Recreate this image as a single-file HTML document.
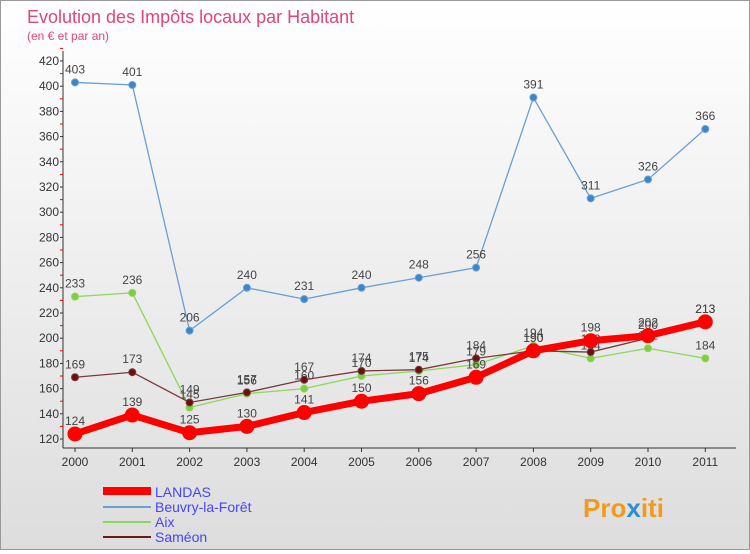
<!DOCTYPE html>
<html><head><meta charset="utf-8"><style>
body{margin:0;width:750px;height:550px;overflow:hidden;font-family:"Liberation Sans",sans-serif}
#wrap{position:relative;width:748px;height:548px;border:1px solid #999;background:linear-gradient(#fff,#ddd)}
</style></head><body>
<div id="wrap">
<svg id="c" width="748" height="548" xmlns="http://www.w3.org/2000/svg">
<text x="26" y="22" font-size="18" fill="#e0457b">Evolution des Impôts locaux par Habitant</text>
<text x="26" y="39" font-size="12" fill="#e0457b">(en € et par an)</text>
<g id="axes"></g><g id="series"></g>
<g>
<rect x="102" y="486" width="48" height="8" fill="#f00"/>
<text x="154" y="496" font-size="14" fill="#44f">LANDAS</text>
<line x1="102" y1="506" x2="150" y2="506" stroke="#6a9fd4" stroke-width="2"/>
<text x="154" y="511" font-size="14" fill="#44f">Beuvry-la-Forêt</text>
<line x1="102" y1="521" x2="150" y2="521" stroke="#8cd65a" stroke-width="2"/>
<text x="154" y="526" font-size="14" fill="#44f">Aix</text>
<line x1="102" y1="536" x2="150" y2="536" stroke="#6b1a1a" stroke-width="2"/>
<text x="154" y="541" font-size="14" fill="#44f">Saméon</text>
</g>
<text x="582" y="516" font-size="26" font-weight="bold" fill="#f39a1e">Pro<tspan fill="#2a8fd6">x</tspan>iti</text>
</svg></div>
<script>
const years=[2000,2001,2002,2003,2004,2005,2006,2007,2008,2009,2010,2011];
const landas=[124,139,125,130,141,150,156,169,190,198,202,213];
const beuvry=[403,401,206,240,231,240,248,256,391,311,326,366];
const aix=[233,236,145,156,160,170,174,179,194,184,192,184];
const sameon=[169,173,149,157,167,174,175,184,190,189,200,213];
const yTicks=[120,140,160,180,200,220,240,260,280,300,320,340,360,380,400,420];
const NS="http://www.w3.org/2000/svg";
const X=i=>74+i*57.3, Y=v=>438-(v-120)*1.26;
function mk(t,a,p){const e=document.createElementNS(NS,t);for(const k in a)e.setAttribute(k,a[k]);p.appendChild(e);return e;}
const ax=document.getElementById('axes');
const pa=mk('rect',{x:62,y:50,width:673,height:397,fill:'none'},ax);


const yl=mk('line',{x1:62,y1:50,x2:62,y2:447,stroke:'#333'},ax);


const xl=mk('line',{x1:62,y1:447,x2:735,y2:447,stroke:'#333'},ax);


yTicks.forEach(v=>{
 const t=mk('text',{x:58,y:Y(v)+4,'font-size':12,fill:'#333','text-anchor':'end'},ax);t.textContent=v;
 
 
 mk('line',{x1:59,y1:Y(v),x2:62,y2:Y(v),stroke:'#333'},ax);
 mk('line',{x1:59,y1:Y(v+10),x2:62,y2:Y(v+10),stroke:'#f00'},ax);
});
years.forEach((y,i)=>{
 const t=mk('text',{x:X(i),y:465,'font-size':12,fill:'#333','text-anchor':'middle'},ax);t.textContent=y;
 
 
 mk('line',{x1:X(i),y1:447,x2:X(i),y2:451,stroke:'#333'},ax);
});
const sg=document.getElementById('series');
function series(d,name,col,w,r,dot){
 const g=mk('g',{},sg);
 
 
 const p=mk('polyline',{points:d.map((v,i)=>X(i)+','+Y(v)).join(' '),fill:'none',stroke:col,'stroke-width':w},g);
 
 
 d.forEach((v,i)=>{
  const c=mk('circle',{cx:X(i),cy:Y(v),r:r,fill:dot,stroke:col,'stroke-width':1},g);
  
  
  const t=mk('text',{x:X(i),y:Y(v)-9,'font-size':12,fill:'#444','text-anchor':'middle'},g);t.textContent=v;
  
  
 });
}
series(beuvry,'beuvry','#6a9fd4',1.3,3.5,'#3a86c8');
series(aix,'aix','#8cd65a',1.3,3.5,'#7cd040');
series(sameon,'sameon','#7a3a3a',1.3,3.5,'#6b1010');
series(landas,'landas','#f00',7,7,'#f00');
</script>
</body></html>
